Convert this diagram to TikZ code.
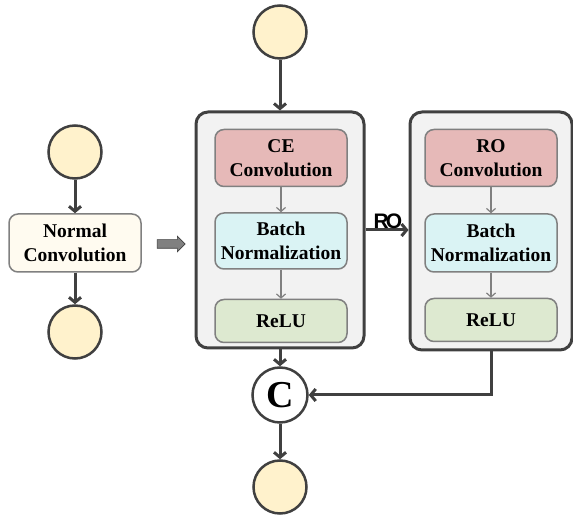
\documentclass[tikz,border=0pt]{standalone}
\usepackage{fontspec}
\setmainfont{Liberation Serif}
\newfontfamily\labelfont{Liberation Sans}
\usetikzlibrary{positioning,arrows,arrows.meta}
\usetikzlibrary{shapes.arrows}
\definecolor{edge}{HTML}{404040}
\definecolor{thin}{HTML}{808080}
\definecolor{ioyellow}{HTML}{FFF2CC}
\definecolor{cream}{HTML}{FFFBF0}
\definecolor{blockgray}{HTML}{F2F2F2}
\definecolor{convred}{HTML}{E6B9B8}
\definecolor{bncyan}{HTML}{DAF3F4}
\definecolor{relugreen}{HTML}{DDE9D0}
\tikzstyle{io}=[draw=edge, circle, line width=2.5pt, minimum size=53pt, inner sep=0pt, fill=ioyellow]
\tikzstyle{layer}=[draw=thin, rounded corners=9pt, line width=1.5pt, minimum width=132pt, align=center, font=\bfseries\fontsize{19.5}{24}\selectfont]
\tikzstyle{block}=[draw=edge, rounded corners=12pt, line width=3pt, fill=blockgray]
\tikzstyle{flow}=[-{Straight Barb[length=5pt, width=12pt]}, color=edge, line width=3pt]
\tikzstyle{inner}=[-{Straight Barb[length=4pt, width=9pt]}, color=thin, line width=1.2pt]

\begin{document}
\begin{tikzpicture}[x=1pt, y=-1pt, thick]
	\useasboundingbox (0,0) rectangle (573,518);
	% left: plain layer
	\node[io] (lin) at (75,152) {};
	\node[layer, fill=cream, minimum height=58pt] (nconv) at (75,243) {Normal\\Convolution};
	\node[io] (lout) at (75,332) {};
	\node[single arrow, fill=thin, draw=edge, line width=0.6pt, inner xsep=0pt, inner ysep=4pt, minimum height=28pt, single arrow head extend=3.5pt, single arrow head indent=0pt] (step-to) at (169,244) {};

	% right: split layer
	\node[io] (in) at (280,32) {};
	\node[block, minimum width=168pt, minimum height=236pt] (L) at (280,230) {};
	\node[block, minimum width=162pt, minimum height=238pt] (R) at (491,231) {};
	\node[layer, fill=convred, minimum height=57pt] (ce) at (281,158) {CE\\Convolution};
	\node[layer, fill=bncyan, minimum height=56pt] (bnl) [below = 25pt of ce] {Batch\\Normalization};
	\node[layer, fill=relugreen, minimum height=43pt] (relul) [below = 29pt of bnl] {ReLU};
	\node[layer, fill=convred, minimum height=57pt] (roc) at (491,158) {RO\\Convolution};
	\node[layer, fill=bncyan, minimum height=58pt] (bnr) [below = 26pt of roc] {Batch\\Normalization};
	\node[layer, fill=relugreen, minimum height=43pt] (relur) [below = 25pt of bnr] {ReLU};
	\node[draw=edge, circle, line width=2.5pt, minimum size=55pt, inner sep=0pt, fill=white, font=\bfseries\fontsize{38}{38}\selectfont] (cat) at (280,395) {C};
	\node[io] (out) at (280,487) {};

	\draw (lin) edge[flow] (nconv);
	\draw (nconv) edge[flow] (lout);
	\draw (in) edge[flow] (L);
	\draw (ce) edge[inner] (bnl);
	\draw (bnl) edge[inner] (relul);
	\draw (roc) edge[inner] (bnr);
	\draw (bnr) edge[inner] (relur);
	\draw[flow] (L.east |- 0,230) -- (R.west |- 0,230) node[pos=0.52, above, inner sep=0pt, text=black, font=\labelfont\bfseries\fontsize{21}{21}\selectfont] {R\kern-3pt O};
	\draw (L) edge[flow] (cat);
	\draw[flow] (R.south) |- (cat.east);
	\draw (cat) edge[flow] (out);
	
\end{tikzpicture}
\end{document}
